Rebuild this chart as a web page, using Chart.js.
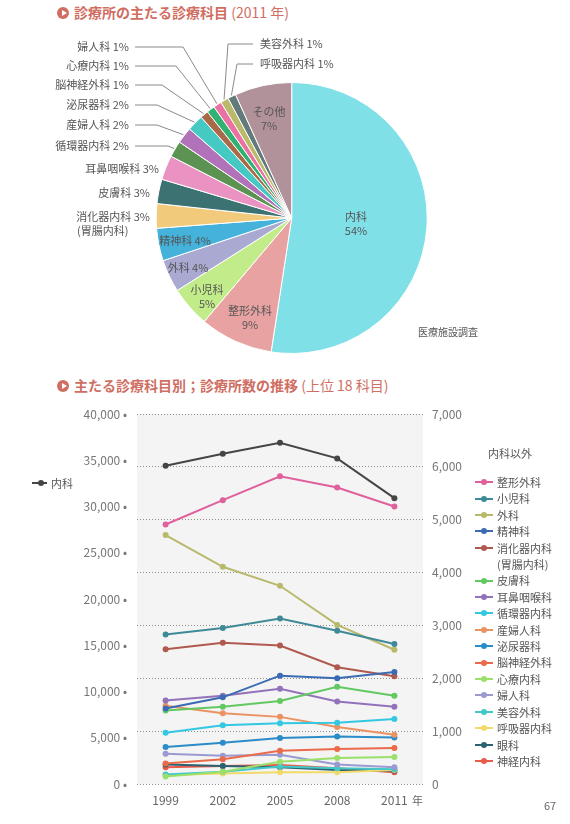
<!DOCTYPE html>
<html lang="ja">
<head>
<meta charset="utf-8">
<script src="https://cdn.jsdelivr.net/npm/chart.js@4.4.0/dist/chart.umd.min.js"></script>
<style>
  body { margin: 0; width: 570px; height: 824px; background: #fff; position: relative; overflow: hidden;
         font-family: 'Noto Sans CJK JP', 'Noto Sans', sans-serif; color: #555; }
  .title { position: absolute; left: 57px; font-size: 14px; font-weight: bold; color: #cf6e62; white-space: nowrap; line-height: 16px; }
  .title .mark { display: inline-block; width: 12px; height: 12px; border-radius: 50%; background: #cf6e62;
                 position: relative; vertical-align: -1px; margin-right: 5px; }
  .title .mark::after { content: ''; position: absolute; left: 4.5px; top: 3px; border-left: 5px solid #fff;
                        border-top: 3px solid transparent; border-bottom: 3px solid transparent; }
  .title span.sub { font-weight: normal; font-size: 14px; }
  canvas { position: absolute; left: 0; }
  #pie { top: 0; }
  #line { top: 395px; }
  .note { position: absolute; font-size: 10px; color: #555; white-space: nowrap; }
  #legend { position: absolute; left: 475px; top: 445px; font-size: 11px; color: #555; }
  #legend .head { margin-left: 13px; height: 29px; line-height: 16px; }
  #legend .item { display: flex; align-items: flex-start; line-height: 16.4px; }
  .mk { position: relative; width: 18px; height: 16.4px; margin-right: 4px; flex: none; }
  .mk::before { content: ''; position: absolute; left: 0; right: 0; top: 7.2px; height: 2px; background: var(--c); }
  .mk::after { content: ''; position: absolute; left: 6px; top: 5.2px; width: 6px; height: 6px; border-radius: 50%; background: var(--c); }
</style>
</head>
<body>
<div class="title" style="top:4px"><span class="mark"></span>診療所の主たる診療科目 <span class="sub">(2011 年)</span></div>
<canvas id="pie" width="570" height="370"></canvas>
<div class="note" style="left:418px; top:324px">医療施設調査</div>

<div class="title" style="top:377px"><span class="mark"></span>主たる診療科目別；診療所数の推移 <span class="sub">(上位 18 科目)</span></div>
<canvas id="line" width="570" height="425"></canvas>
<div id="legend"></div>
<div class="note" style="left:32px; top:475px; font-size:11px; display:flex"><span class="mk" style="--c:#454545; width:15px"></span>内科</div>
<div class="note" style="left:412px; top:792px; font-size:11px; color:#666">年</div>
<div class="note" style="left:544px; top:797px; font-size:11px; color:#666">67</div>

<script>
const FONT = "'Noto Sans CJK JP', 'Noto Sans', sans-serif"

// pie: share of clinics by main department, 2011 (%)
const pieLabels = ["内科", "整形外科", "小児科", "外科", "精神科", "消化器内科", "皮膚科", "耳鼻咽喉科", "循環器内科",
  "産婦人科", "泌尿器科", "脳神経外科", "心療内科", "婦人科", "美容外科", "呼吸器内科", "その他"]
const pieShares = [54, 9, 5, 4, 4, 3, 3, 3, 2, 2, 2, 1, 1, 1, 1, 1, 7]
const pieColors = ["#80e0e8", "#e9a2a2", "#c2ec8a", "#a9a9d2", "#44b2da", "#f2ca7c", "#3c7272", "#ea92c2", "#5c9252",
  "#b272ba", "#44cac2", "#aa6a4a", "#32b272", "#ea72a2", "#baba6a", "#627a7a", "#b2929a"]

// line chart: clinics per department
const years = ["1999", "2002", "2005", "2008", "2011"]
const naika = [34400, 35700, 36900, 35200, 30900]
const seikeigeka = [4910, 5370, 5820, 5610, 5250]
const shonika = [2830, 2950, 3130, 2900, 2650]
const geka = [4710, 4110, 3750, 3010, 2540]
const seishinka = [1430, 1640, 2050, 2000, 2120]
const shokakinaika = [2550, 2670, 2620, 2210, 2040]
const hifuka = [1390, 1460, 1570, 1840, 1670]
const jibika = [1580, 1670, 1800, 1560, 1460]
const junkankinaika = [970, 1110, 1150, 1160, 1230]
const sanfujinka = [1480, 1340, 1270, 1080, 930]
const hinyokika = [700, 780, 870, 900, 880]
const noshinkeigeka = [390, 470, 630, 660, 680]
const shinryonaika = [140, 230, 420, 490, 510]
const fujinka = [570, 535, 555, 370, 315]
const biyogeka = [180, 230, 330, 300, 280]
const kokyukinaika = [170, 200, 220, 220, 265]
const ganka = [370, 340, 315, 265, 250]
const shinkeinaika = [315, 340, 360, 300, 220]

const otherNames = ["整形外科", "小児科", "外科", "精神科", "消化器内科", "皮膚科", "耳鼻咽喉科", "循環器内科", "産婦人科",
  "泌尿器科", "脳神経外科", "心療内科", "婦人科", "美容外科", "呼吸器内科", "眼科", "神経内科"]
const otherValues = [seikeigeka, shonika, geka, seishinka, shokakinaika, hifuka, jibika, junkankinaika, sanfujinka,
  hinyokika, noshinkeigeka, shinryonaika, fujinka, biyogeka, kokyukinaika, ganka, shinkeinaika]
const otherColors = ["#e0609c", "#3e8a96", "#b9b96c", "#3b6bb2", "#b0594f", "#62c862", "#9272ba", "#32c8e2", "#ea9262",
  "#2a8cc8", "#ea6a4a", "#9ae06a", "#9a9ad2", "#42c8c8", "#f2da6a", "#2a6272", "#ea5a4a"]

// label placement for the pie (layout only)
const pieText = [
  { x: 356, y: 217, inside: true, split: true },
  { x: 250, y: 311, inside: true, split: true },
  { x: 207, y: 290, inside: true, split: true },
  { x: 188, y: 268, inside: true },
  { x: 185, y: 241, inside: true },
  { x: 150, y: 217, align: "right", note: "(胃腸内科)" },
  { x: 150, y: 193, align: "right" },
  { x: 159, y: 169, align: "right" },
  { x: 129, y: 146, align: "right", elbow: 168 },
  { x: 129, y: 125, align: "right", elbow: 157 },
  { x: 129, y: 105, align: "right", elbow: 157 },
  { x: 129, y: 85, align: "right", elbow: 162 },
  { x: 129, y: 66, align: "right", elbow: 176 },
  { x: 129, y: 47, align: "right", elbow: 183 },
  { x: 260, y: 44, align: "left", elbow: 228 },
  { x: 260, y: 64, align: "left", elbow: 237 },
  { x: 269, y: 112, inside: true, split: true },
]

const pieLabelPlugin = {
  id: "pieLabels",
  afterDraw(chart) {
    const ctx = chart.ctx
    const arcs = chart.getDatasetMeta(0).data
    ctx.save()
    ctx.font = "11px " + FONT
    ctx.fillStyle = "#555"
    ctx.textBaseline = "middle"
    pieText.forEach((t, i) => {
      const name = pieLabels[i]
      const pct = pieShares[i] + "%"
      if (t.inside) {
        ctx.textAlign = "center"
        if (t.split) {
          ctx.fillText(name, t.x, t.y)
          ctx.fillText(pct, t.x, t.y + 14)
        } else {
          ctx.fillText(name + " " + pct, t.x, t.y)
        }
        return
      }
      ctx.textAlign = t.align
      ctx.fillText(name + " " + pct, t.x, t.y)
      if (t.note) {
        ctx.textAlign = "left"
        ctx.fillText(t.note, 77, t.y + 14)
      }
      if (t.elbow) {
        const a = arcs[i].getProps(["x", "y", "startAngle", "endAngle", "outerRadius"], true)
        const mid = (a.startAngle + a.endAngle) / 2
        const ex = a.x + Math.cos(mid) * (a.outerRadius + 1)
        const ey = a.y + Math.sin(mid) * (a.outerRadius + 1)
        const sx = t.align === "right" ? t.x + 6 : t.x - 7
        ctx.beginPath()
        ctx.strokeStyle = "#8a8a8a"
        ctx.lineWidth = 1
        ctx.moveTo(sx, t.y)
        ctx.lineTo(t.elbow, t.y)
        ctx.lineTo(ex, ey)
        ctx.stroke()
      }
    })
    ctx.restore()
  },
}

new Chart(document.getElementById("pie"), {
  type: "pie",
  data: {
    labels: pieLabels,
    datasets: [{ data: pieShares, backgroundColor: pieColors, borderColor: "#fff", borderWidth: 1 }],
  },
  options: {
    responsive: false,
    animation: false,
    layout: { padding: { left: 155.7, right: 142.3, top: 82, bottom: 16 } },
    plugins: { legend: { display: false }, tooltip: { enabled: false } },
  },
  plugins: [pieLabelPlugin],
})

const plotBg = {
  id: "plotBg",
  beforeDraw(chart) {
    const { ctx, chartArea: a } = chart
    ctx.save()
    ctx.fillStyle = "#f4f4f4"
    ctx.fillRect(a.left, a.top, a.right - a.left, a.bottom - a.top)
    ctx.restore()
  },
}

const lineStyle = (color) => ({
  borderColor: color,
  backgroundColor: color,
  borderWidth: 2,
  pointRadius: 3,
  pointBorderWidth: 0,
  tension: 0,
})

const datasets = [{ label: "内科", data: naika, yAxisID: "y", ...lineStyle("#454545") }]
otherNames.forEach((name, i) => {
  datasets.push({ label: name, data: otherValues[i], yAxisID: "y1", ...lineStyle(otherColors[i]) })
})

new Chart(document.getElementById("line"), {
  type: "line",
  data: { labels: years, datasets },
  options: {
    responsive: false,
    animation: false,
    layout: { padding: { top: 19, left: 0, right: 0, bottom: 0 } },
    plugins: { legend: { display: false }, tooltip: { enabled: false } },
    scales: {
      x: {
        offset: true,
        grid: { display: false, drawTicks: false },
        border: { display: false },
        ticks: { color: "#666", font: { size: 12, family: FONT }, padding: 9 },
        afterFit: (s) => { s.height = 36 },
      },
      y: {
        position: "left",
        min: 0,
        max: 40000,
        grid: { display: false, drawTicks: false },
        border: { display: false },
        ticks: {
          stepSize: 5000,
          color: "#777",
          font: { size: 12, family: FONT },
          padding: 10,
          callback: (v) => v.toLocaleString("en-US") + " •",
        },
        afterFit: (s) => { s.width = 137 },
      },
      y1: {
        position: "right",
        min: 0,
        max: 7000,
        grid: { color: "#8e8e8e", lineWidth: 1, drawTicks: false },
        border: { display: false, dash: [1, 2] },
        ticks: {
          stepSize: 1000,
          color: "#777",
          font: { size: 12, family: FONT },
          padding: 9,
          callback: (v) => v.toLocaleString("en-US"),
        },
        afterFit: (s) => { s.width = 147 },
      },
    },
  },
  plugins: [plotBg],
})

// legend for the right-axis series
const legend = document.getElementById("legend")
legend.innerHTML = '<div class="head">内科以外</div>'
otherNames.forEach((name, i) => {
  const row = document.createElement("div")
  row.className = "item"
  const extra = name === "消化器内科" ? "<br>(胃腸内科)" : ""
  row.innerHTML = `<span class="mk" style="--c:${otherColors[i]}"></span><span>${name}${extra}</span>`
  legend.appendChild(row)
})
</script>
</body>
</html>
